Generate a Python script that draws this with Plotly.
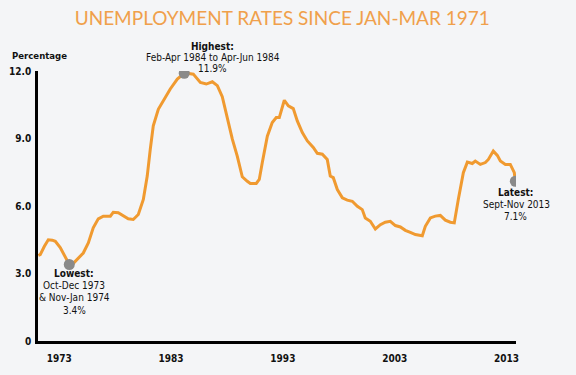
import plotly.graph_objects as go

# Rolling three-month unemployment rate (%)
years = [1971.13, 1971.30, 1971.66, 1972.02, 1972.38, 1972.65, 1973.09, 1973.54, 1973.90,
         1974.26, 1974.61, 1975.15, 1975.60, 1976.04, 1976.49, 1976.94, 1977.57, 1977.83,
         1978.28, 1978.73, 1979.17, 1979.62, 1980.07, 1980.52, 1980.87, 1981.14, 1981.41,
         1981.86, 1982.30, 1982.93, 1983.56, 1984.18, 1984.45, 1984.99, 1985.62, 1986.15,
         1986.69, 1987.14, 1987.58, 1988.03, 1988.48, 1988.92, 1989.37, 1989.82, 1990.09,
         1990.62, 1990.89, 1991.16, 1991.61, 1992.05, 1992.41, 1992.68, 1993.13, 1993.49,
         1993.93, 1994.29, 1994.74, 1995.19, 1995.72, 1996.08, 1996.53, 1996.97, 1997.24,
         1997.51, 1997.87, 1998.32, 1998.76, 1999.21, 1999.66, 2000.10, 2000.37, 2000.82,
         2001.27, 2001.72, 2002.16, 2002.61, 2003.06, 2003.51, 2003.95, 2004.40, 2004.85,
         2005.47, 2005.74, 2006.19, 2006.63, 2007.08, 2007.53, 2007.98, 2008.33, 2008.69,
         2009.14, 2009.50, 2009.94, 2010.21, 2010.66, 2011.11, 2011.38, 2011.82, 2012.18,
         2012.45, 2012.90, 2013.34, 2013.70, 2013.79]
rates = [3.8, 3.84, 4.2, 4.5, 4.48, 4.43, 4.15, 3.76, 3.4,
         3.45, 3.64, 3.91, 4.36, 5.03, 5.43, 5.55, 5.55, 5.72,
         5.70, 5.58, 5.43, 5.40, 5.62, 6.29, 7.33, 8.52, 9.56,
         10.30, 10.67, 11.20, 11.64, 11.9, 11.9, 11.86, 11.49, 11.42,
         11.52, 11.35, 10.86, 9.93, 8.97, 8.22, 7.3, 7.1, 7.0,
         7.0, 7.18, 7.93, 9.1, 9.71, 9.93, 9.93, 10.7, 10.45,
         10.33, 9.78, 9.26, 8.89, 8.60, 8.34, 8.30, 8.07, 7.33,
         7.26, 6.73, 6.36, 6.26, 6.21, 5.99, 5.84, 5.47, 5.32,
         4.98, 5.17, 5.28, 5.32, 5.13, 5.07, 4.92, 4.83, 4.73,
         4.68, 5.10, 5.47, 5.55, 5.58, 5.37, 5.28, 5.25, 6.29,
         7.48, 7.95, 7.89, 8.0, 7.85, 7.93, 8.07, 8.44, 8.25,
         8.0, 7.85, 7.85, 7.48, 7.1]

# Highlighted points
hl_years = [1973.90, 1984.18, 2013.79]
hl_rates = [3.4, 11.9, 7.1]
hl_text = [
    ["<b>Lowest:</b>", "Oct-Dec 1973", "&amp; Nov-Jan 1974", "3.4%"],
    ["<b>Highest:</b>", "Feb-Apr 1984 to Apr-Jun 1984", "11.9%"],
    ["<b>Latest:</b>", "Sept-Nov 2013", "7.1%"],
]

y_tickvals = [0, 3, 6, 9, 12]
y_ticktext = ["0", "3.0", "6.0", "9.0", "12.0"]
x_tickvals = [1973, 1983, 1993, 2003, 2013]
x_ticktext = ["1973", "1983", "1993", "2003", "2013"]

BG = "#F4F5F7"
ORANGE = "#F09A30"
LABEL_FONT = "DejaVu Sans Condensed, Liberation Sans, sans-serif"

fig = go.Figure()
fig.add_trace(go.Scatter(x=years, y=rates, mode="lines",
                         line=dict(color=ORANGE, width=3), hoverinfo="skip"))
fig.add_trace(go.Scatter(x=hl_years, y=hl_rates, mode="markers",
                         marker=dict(color="#8A8A8A", size=11), hoverinfo="skip"))

# per-line offsets (px) relative to each highlighted point
offsets = [
    [(5, -8.5), (5, -20.5), (5, -33), (5, -45.5)],
    [(28.5, 27), (28.5, 15.5), (28.5, 4.5)],
    [(0, -11), (1, -23), (0, -35.5)],
]
for (xv, yv, lines, offs) in zip(hl_years, hl_rates, hl_text, offsets):
    for line, (dx, dy) in zip(lines, offs):
        fig.add_annotation(x=xv, y=yv, xref="x", yref="y", text=line,
                           showarrow=False, xanchor="center", yanchor="middle",
                           xshift=dx, yshift=dy,
                           font=dict(family=LABEL_FONT, size=10, color="#111111"))

fig.add_annotation(x=-0.058, y=1.057, xref="paper", yref="paper",
                   text="<b>Percentage</b>", showarrow=False,
                   xanchor="left", yanchor="middle",
                   font=dict(family=LABEL_FONT, size=9.5, color="#111111"))

fig.update_layout(
    width=576, height=375,
    margin=dict(l=38, r=60, t=71, b=34),
    paper_bgcolor=BG, plot_bgcolor=BG,
    showlegend=False,
    title=dict(text="UNEMPLOYMENT RATES SINCE JAN-MAR 1971",
               x=0.49, xref="container", xanchor="center",
               y=0.952, yref="container", yanchor="middle",
               font=dict(family="Lato, Open Sans, sans-serif", size=19, color="#F0A04B")),
    xaxis=dict(range=[1971.1, 2013.85], showgrid=False, zeroline=False,
               showline=True, linecolor="#000000", linewidth=2.5,
               tickvals=x_tickvals, ticktext=["<b>%s</b>" % t for t in x_ticktext],
               ticks="", automargin=False,
               tickfont=dict(family=LABEL_FONT, size=10, color="#111111"),
               ticklabelstandoff=6),
    yaxis=dict(range=[0, 12], showgrid=False, zeroline=False,
               showline=True, linecolor="#000000", linewidth=2.5,
               tickvals=y_tickvals, ticktext=["<b>%s</b>" % t for t in y_ticktext],
               ticks="", automargin=False,
               tickfont=dict(family=LABEL_FONT, size=10, color="#111111"),
               ticklabelstandoff=2),
)

fig.write_html("out.html", config={"displayModeBar": False},
               post_script="document.body.style.margin='0';")
